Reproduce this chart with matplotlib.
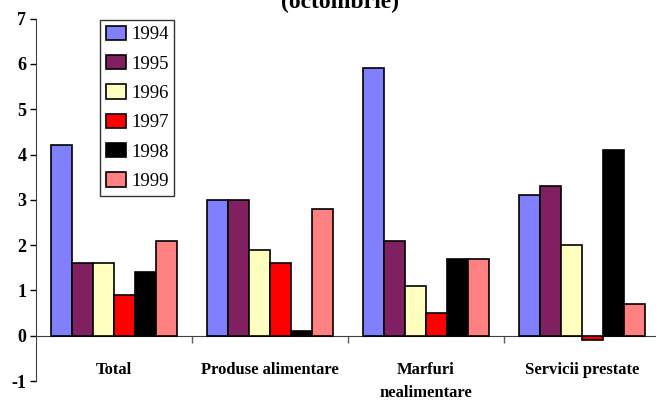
import matplotlib
matplotlib.use("Agg")
import matplotlib.pyplot as plt
from matplotlib.ticker import FixedLocator
from matplotlib.patches import Rectangle
from matplotlib.legend_handler import HandlerPatch
import numpy as np

categories = ["Total", "Produse alimentare", "Marfuri\nnealimentare", "Servicii prestate"]
years = ["1994", "1995", "1996", "1997", "1998", "1999"]
v1994 = [4.2, 3.0, 5.9, 3.1]
v1995 = [1.6, 3.0, 2.1, 3.3]
v1996 = [1.6, 1.9, 1.1, 2.0]
v1997 = [0.9, 1.6, 0.5, -0.1]
v1998 = [1.4, 0.1, 1.7, 4.1]
v1999 = [2.1, 2.8, 1.7, 0.7]
series = [v1994, v1995, v1996, v1997, v1998, v1999]
colors = ["#8080FF", "#802060", "#FFFFC0", "#FF0000", "#000000", "#FF8080"]
yticks = [-1, 0, 1, 2, 3, 4, 5, 6, 7]

plt.rcParams["font.family"] = ["Liberation Serif", "DejaVu Serif"]

W, H = 656, 401
fig = plt.figure(figsize=(W / 100, H / 100), dpi=100)
ax = fig.add_axes([36 / W, 20 / H, 624 / W, 362.4 / H])

ax.spines["bottom"].set_position(("data", 0))
ax.spines["top"].set_visible(False)
ax.spines["right"].set_visible(False)
ax.spines["left"].set_color("#404040")
ax.spines["bottom"].set_color("#404040")

x = np.arange(len(categories))
bw = 0.1346
n = len(series)
for i, (vals, c, lab) in enumerate(zip(series, colors, years)):
    off = (i - (n - 1) / 2) * bw
    ax.bar(x + off, vals, width=bw, color=c, edgecolor="black", linewidth=1.2,
           label=lab, zorder=3)

ax.set_xlim(-0.5, 3.5)
ax.set_ylim(-1, 7)
ax.set_yticks(yticks)
ax.set_yticklabels([str(t) for t in yticks], fontsize=13, fontweight="bold")
ax.tick_params(axis="y", direction="out", length=4, width=1, pad=3)

ax.set_xticks(x)
ax.set_xticklabels(categories, fontsize=12, fontweight="bold", linespacing=1.55)
ax.tick_params(axis="x", which="major", length=0, pad=19)
ax.xaxis.set_minor_locator(FixedLocator([0.5, 1.5, 2.5]))
ax.tick_params(axis="x", which="minor", direction="out", length=5, width=1, color="#606060")


def right_square(legend, orig_handle, xdescent, ydescent, width, height, fontsize):
    hw = 11.0 * 72 / 100
    hh = 14.0 * 72 / 100
    return Rectangle((-xdescent + width - hw, -ydescent + (height - hh) / 2), hw, hh)


leg = ax.legend(loc="upper left", bbox_to_anchor=(64 / 624, 1.0 - 1.5 / 362.4),
                fontsize=13.5, frameon=True, fancybox=False, handlelength=1.1,
                handleheight=0.8, handletextpad=0.27, labelspacing=0.62,
                borderpad=0.3, borderaxespad=0,
                handler_map={matplotlib.patches.Rectangle: HandlerPatch(patch_func=right_square)})
leg.get_frame().set_edgecolor("black")
leg.get_frame().set_linewidth(1.0)

fig.text(340 / W, 1 - 8 / H, "(octombrie)", ha="center", va="baseline",
         fontsize=17, fontweight="bold")

fig.savefig("out.png", dpi=100)
